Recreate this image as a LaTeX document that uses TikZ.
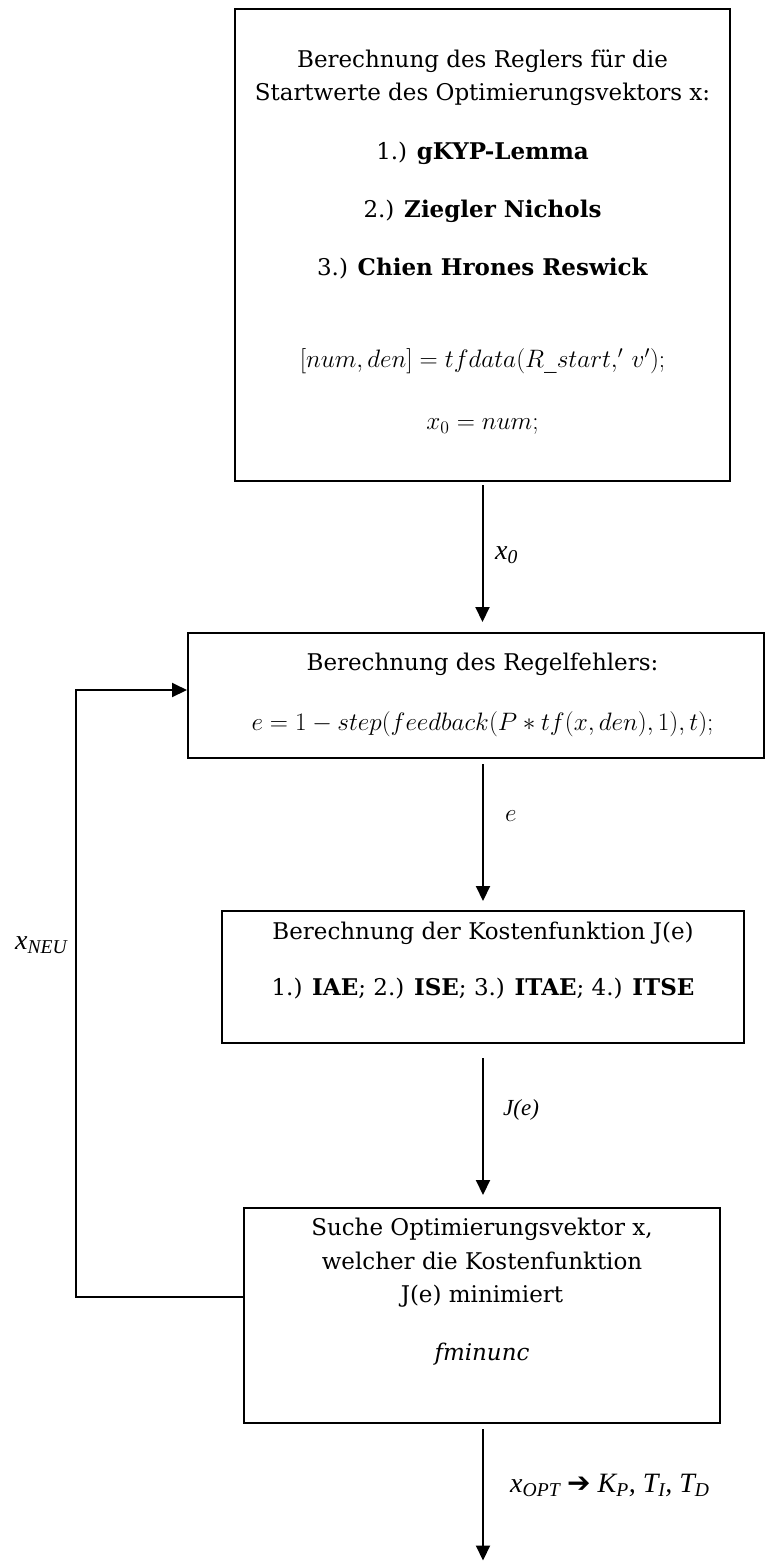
\RequirePackage{fix-cm}
\documentclass[tikz,border=0pt]{standalone}
\usepackage{graphicx}
\usepackage{fontspec}
\setmainfont{DejaVu Serif}
\newfontfamily\labfont{Liberation Serif}
\newfontfamily\symfnt{DejaVu Sans}
\usetikzlibrary{arrows.meta}
\newcommand{\scmath}[1]{\scalebox{1.26}{$#1$}}
\begin{document}
\begin{tikzpicture}[x=1pt,y=-1pt,
  box/.style={draw, line width=2pt, inner sep=0pt},
  txt/.style={anchor=mid, inner sep=0pt, font=\fontsize{23}{27}\selectfont},
  mth/.style={anchor=mid, inner sep=0pt, font=\fontsize{20}{24}\selectfont},
  lab/.style={anchor=mid west, inner sep=0pt, font=\fontsize{28}{32}\labfont\itshape},
  smalllab/.style={anchor=mid west, inner sep=0pt, font=\fontsize{23}{26}\labfont\itshape},
  flow/.style={line width=2pt, -{Triangle[length=15pt,width=14pt]}}]
\useasboundingbox (0,0) rectangle (765,1561);
% boxes
\node[box, minimum width=495pt, minimum height=472pt] (b1) at (482.5,245) {};
\node[box, minimum width=576pt, minimum height=125pt] (b2) at (476,695.5) {};
\node[box, minimum width=522pt, minimum height=132pt] (b3) at (483,977) {};
\node[box, minimum width=476pt, minimum height=215pt] (b4) at (482,1315.5) {};
% box 1 text
\node[txt] (t11) at (482.5,65) {Berechnung des Reglers für die};
\node[txt] (t12) at (482.5,98) {Startwerte des Optimierungsvektors x:};
\node[txt] (t13) at (482.5,157) {1.) \textbf{gKYP-Lemma}};
\node[txt] (t14) at (482.5,215) {2.) \textbf{Ziegler Nichols}};
\node[txt] (t15) at (482.5,273) {3.) \textbf{Chien Hrones Reswick}};
\node[mth] (t16) at (482.5,365) {\scmath{[num,den]=tfdata(R\_start,'\,v');}};
\node[mth] (t17) at (482.5,427) {\scmath{x_0=num;}};
% box 2 text
\node[txt] (t21) at (482.5,668) {Berechnung des Regelfehlers:};
\node[mth] (t22) at (482.5,728) {\scmath{e=1-step(feedback(P\ast tf(x,den),1),t);}};
% box 3 text
\node[txt] (t31) at (483,937) {Berechnung der Kostenfunktion J(e)};
\node[txt] (t32) at (483,993) {1.) \textbf{IAE}; 2.) \textbf{ISE}; 3.) \textbf{ITAE}; 4.) \textbf{ITSE}};
% box 4 text
\node[txt] (t41) at (482,1233) {Suche Optimierungsvektor x,};
\node[txt] (t42) at (482,1267) {welcher die Kostenfunktion};
\node[txt] (t43) at (482,1300) {J(e) minimiert};
\node[txt] (t44) at (482,1358) {\textit{fminunc}};
% connectors
\coordinate (endp) at (483,1561);
\coordinate (fbB) at (76,1297);
\coordinate (fbT) at (76,690);
\draw[flow, shorten <=3pt, shorten >=10pt] (b1.south) -- (b1.south |- b2.north);
\draw[flow, shorten <=5pt, shorten >=9pt] (b2.south -| b3.north) -- (b3.north);
\draw[flow, shorten <=14pt, shorten >=12pt] (b3.south) -- (b3.south |- b4.north);
\draw[flow, shorten <=5pt, shorten >=0.5pt] (b4.south -| endp) -- (endp);
\draw[flow] (fbB -| b4.west) -- (fbB) -- (fbT) -- (fbT -| b2.west);
% labels
\node[lab] (lx0) at (495,557) {x\textsubscript{0}};
\node[mth, anchor=mid west] (le) at (505,819) {\scmath{e}};
\node[smalllab] (lj) at (503,1113) {J(e)};
\node[lab] (lxneu) at (15,947) {x\textsubscript{NEU}};
\node[lab] (lxopt) at (510,1490) {x\textsubscript{OPT} {\symfnt\upshape ➔} K\textsubscript{P}, T\textsubscript{I}, T\textsubscript{D}};
\end{tikzpicture}
\end{document}
